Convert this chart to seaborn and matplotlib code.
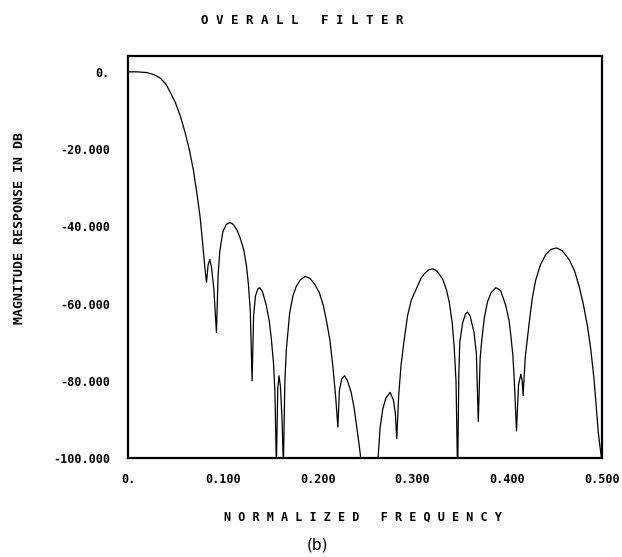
import matplotlib
matplotlib.use("Agg")
import matplotlib.pyplot as plt
import seaborn as sns
import pandas as pd

# ---- data ----
freq = [0.000, 0.010, 0.020, 0.027, 0.034, 0.040, 0.044, 0.050, 0.055, 0.060,
        0.065, 0.069, 0.073, 0.076, 0.079, 0.081, 0.0828, 0.0845, 0.0863, 0.088,
        0.0905, 0.0933, 0.0950, 0.0968, 0.1000, 0.1037, 0.1074, 0.1110, 0.1150, 0.1180,
        0.1220, 0.1250, 0.1270, 0.1290, 0.1309, 0.1325, 0.1345, 0.1370, 0.1390, 0.1420,
        0.1460, 0.1490, 0.1512, 0.1535, 0.1550, 0.1565, 0.1580, 0.1593, 0.1608, 0.1625,
        0.1639, 0.1655, 0.1670, 0.1705, 0.1740, 0.1776, 0.1820, 0.1870, 0.1920, 0.1970,
        0.2020, 0.2060, 0.2090, 0.2130, 0.2160, 0.2190, 0.2214, 0.2230, 0.2255, 0.2284,
        0.2315, 0.2354, 0.2385, 0.2407, 0.2435, 0.2460, 0.2550, 0.2635, 0.2660, 0.2688,
        0.2720, 0.2765, 0.2800, 0.2820, 0.2835, 0.2855, 0.2880, 0.2910, 0.2950, 0.2990,
        0.3039, 0.3090, 0.3126, 0.3170, 0.3214, 0.3260, 0.3320, 0.3360, 0.3390, 0.3420,
        0.3440, 0.3460, 0.3477, 0.3490, 0.3500, 0.3530, 0.3560, 0.3582, 0.3610, 0.3650,
        0.3675, 0.3695, 0.3715, 0.3733, 0.3760, 0.3793, 0.3830, 0.3880, 0.3930, 0.3986,
        0.4020, 0.4039, 0.4060, 0.4074, 0.4098, 0.4120, 0.4144, 0.4158, 0.4168, 0.4190,
        0.4232, 0.4265, 0.4300, 0.4350, 0.4407, 0.4460, 0.4520, 0.4580, 0.4653, 0.4710,
        0.4758, 0.4800, 0.4846, 0.4880, 0.4916, 0.4961, 0.4986, 0.5000]
magnitude_db = [0.0, 0.0, -0.2, -0.7, -1.6, -3.2, -5.0, -8.0, -11.3, -15.5,
                -20.5, -25.5, -32.0, -37.5, -45.0, -50.5, -54.5, -50.0, -48.6, -50.5,
                -56.0, -67.5, -53.0, -46.5, -41.5, -39.5, -39.0, -39.5, -41.0, -42.8,
                -46.0, -50.3, -55.0, -62.0, -80.0, -63.0, -58.0, -56.2, -55.9, -57.0,
                -60.6, -64.5, -69.2, -75.5, -83.0, -102.0, -82.0, -78.7, -81.5, -90.0,
                -102.0, -80.0, -72.0, -62.5, -58.0, -55.5, -53.8, -53.0, -53.5, -55.0,
                -57.3, -60.5, -64.0, -69.5, -76.0, -84.0, -92.0, -82.5, -79.5, -78.7,
                -80.0, -83.0, -87.0, -91.0, -96.0, -101.0, -110.0, -101.0, -92.0, -87.3,
                -84.5, -83.0, -85.0, -88.5, -95.0, -84.0, -76.0, -70.0, -63.0, -59.0,
                -56.3, -53.5, -52.3, -51.3, -51.0, -51.6, -53.7, -56.5, -59.8, -65.0,
                -71.0, -80.0, -105.0, -78.0, -70.0, -65.0, -62.7, -62.2, -63.3, -67.5,
                -73.0, -90.5, -74.0, -69.2, -63.5, -59.5, -57.2, -55.9, -56.6, -60.6,
                -64.5, -68.4, -73.5, -79.6, -93.0, -81.0, -78.3, -80.0, -83.8, -74.0,
                -65.0, -58.5, -54.0, -50.0, -47.3, -46.0, -45.6, -46.3, -48.6, -51.5,
                -55.5, -59.8, -65.8, -71.5, -79.6, -93.4, -98.5, -101.0]

x_ticks = [0.0, 0.1, 0.2, 0.3, 0.4, 0.5]
x_tick_labels = ["0.", "0.100", "0.200", "0.300", "0.400", "0.500"]
y_ticks = [0, -20, -40, -60, -80, -100]
y_tick_labels = ["0.", "-20.000", "-40.000", "-60.000", "-80.000", "-100.000"]

title_text = "O V E R A L L   F I L T E R"
xlabel_text = "N O R M A L I Z E D   F R E Q U E N C Y"
ylabel_text = "MAGNITUDE RESPONSE IN DB"
caption_text = "(b)"

df = pd.DataFrame({"freq": freq, "db": magnitude_db})

sns.set_style("white")
plt.rcParams["font.family"] = ["DejaVu Sans Mono", "DejaVu Sans"]

W, H = 622, 557
fig = plt.figure(figsize=(W / 100, H / 100), dpi=100)
ax = fig.add_axes([128 / W, 1 - 458 / H, (602 - 128) / W, (458 - 56) / H])

sns.lineplot(data=df, x="freq", y="db", ax=ax, color="black", linewidth=0.9,
             sort=False, estimator=None)

ax.set_xlim(0, 0.5)
ax.set_ylim(-100, 4.1)
ax.set_xticks(x_ticks)
ax.set_xticklabels(x_tick_labels, fontsize=8.5, fontweight="bold")
ax.set_yticks(y_ticks)
ax.set_yticklabels(y_tick_labels, fontsize=8.5, fontweight="bold")
ax.tick_params(axis="both", direction="in", length=3, width=1, color="black",
               labelcolor="black")
ax.tick_params(axis="x", pad=11)
ax.tick_params(axis="y", pad=13)
ax.set_xlabel("")
ax.set_ylabel("")
for s in ax.spines.values():
    s.set_visible(True)
    s.set_color("black")
    s.set_linewidth(1.6)
ax.grid(False)

fig.text(302 / W, 1 - 20 / H, title_text, ha="center", va="center", fontsize=9,
         fontweight="bold", color="black")
fig.text(363 / W, 1 - 517 / H, xlabel_text, ha="center", va="center", fontsize=8.5,
         fontweight="bold", color="black")
fig.text(20 / W, 1 - 228 / H, ylabel_text, ha="center", va="center", fontsize=9.5,
         fontweight="bold", rotation=90, color="black")
fig.text(317 / W, 1 - 545 / H, caption_text, ha="center", va="center", fontsize=11,
         family="DejaVu Sans", color="black")

fig.savefig("out.png", dpi=100, facecolor="white")
